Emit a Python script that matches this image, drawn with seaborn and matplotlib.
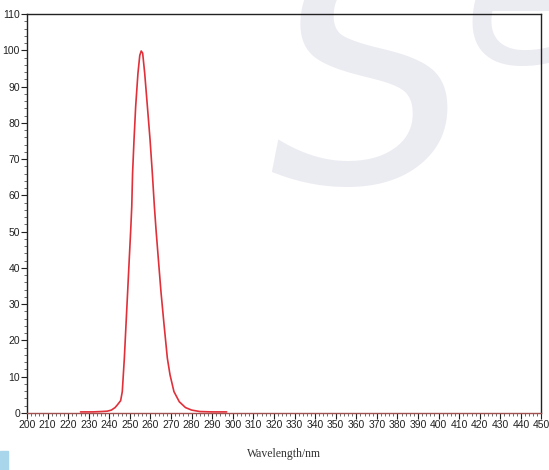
import matplotlib
matplotlib.use("Agg")
import matplotlib.pyplot as plt
import seaborn as sns
import pandas as pd
import numpy as np
from matplotlib.ticker import MultipleLocator
from matplotlib.patches import Rectangle

# spectrum (wavelength in nm, relative intensity)
wavelength = [226, 232, 236, 239, 241, 242.8, 244, 245.5, 246.3, 246.8, 247.3,
              248.1, 248.9, 249.7, 250.4, 250.9, 251.3, 252.0, 252.8, 253.9,
              254.8, 255.5, 256.2, 257.2, 258.5, 259.8, 260.9, 261.9, 262.7,
              263.8, 265.1, 266.6, 268.2, 269.5, 271.4, 274.0, 277, 280, 284,
              290, 297]
intensity = [0.3, 0.3, 0.4, 0.5, 0.8, 1.5, 2.3, 3.4, 5.9, 10.5, 15.1,
             24.3, 33.4, 42.6, 50.5, 56.9, 66.1, 75.3, 84.5, 93.6,
             98.6, 99.8, 99.2, 93.6, 84.5, 75.3, 66.1, 56.9, 50.5,
             42.6, 33.4, 24.3, 15.1, 10.5, 5.9, 3.1, 1.5, 0.8, 0.4,
             0.3, 0.3]

df = pd.DataFrame({'wavelength': wavelength, 'intensity': intensity})

sns.set_style('ticks')
plt.rcParams['font.family'] = ['Liberation Sans', 'DejaVu Sans']

fig = plt.figure(figsize=(5.49, 4.70), dpi=100)

# faint watermark behind the plot
fig.text(0.675, 0.80, 'S', ha='center', va='center', fontsize=230,
         style='italic', family='DejaVu Sans', color='#ebebf2', zorder=-1)
fig.text(0.96, 0.99, 'e', ha='center', va='center', fontsize=150,
         style='italic', family='DejaVu Sans', color='#ebebf2', zorder=-1)

ax = fig.add_axes([0.0492, 0.1213, 0.9371, 0.8489])
ax.set_facecolor('none')

sns.lineplot(data=df, x='wavelength', y='intensity', ax=ax,
             color='#e0303a', linewidth=1.2, zorder=3)

ax.set_xlim(200, 450)
ax.set_ylim(0, 110)
ax.xaxis.set_major_locator(MultipleLocator(10))
ax.xaxis.set_minor_locator(MultipleLocator(2))
ax.yaxis.set_major_locator(MultipleLocator(10))
ax.yaxis.set_minor_locator(MultipleLocator(2))
ax.tick_params(axis='both', which='major', length=4, width=0.8,
               labelsize=7.5, pad=1, colors='#222222')
ax.tick_params(axis='both', which='minor', length=2.5, width=0.6,
               colors='#555555')

for side in ['top', 'right', 'left']:
    ax.spines[side].set_visible(True)
    ax.spines[side].set_color('#222222')
    ax.spines[side].set_linewidth(1.0)
ax.spines['bottom'].set_color('#a0504f')
ax.spines['bottom'].set_linewidth(1.0)

ax.set_xlabel('')
ax.set_ylabel('')
fig.text(0.518, 0.022, 'Wavelength/nm', ha='center', va='bottom',
         family='Liberation Serif', fontsize=8.5, color='#333333')

# blue corner strip from the source image
fig.patches.append(Rectangle((0, 0), 0.014, 0.04, transform=fig.transFigure,
                             color='#a9d6ea', zorder=0))

fig.savefig('out.png', dpi=100)
